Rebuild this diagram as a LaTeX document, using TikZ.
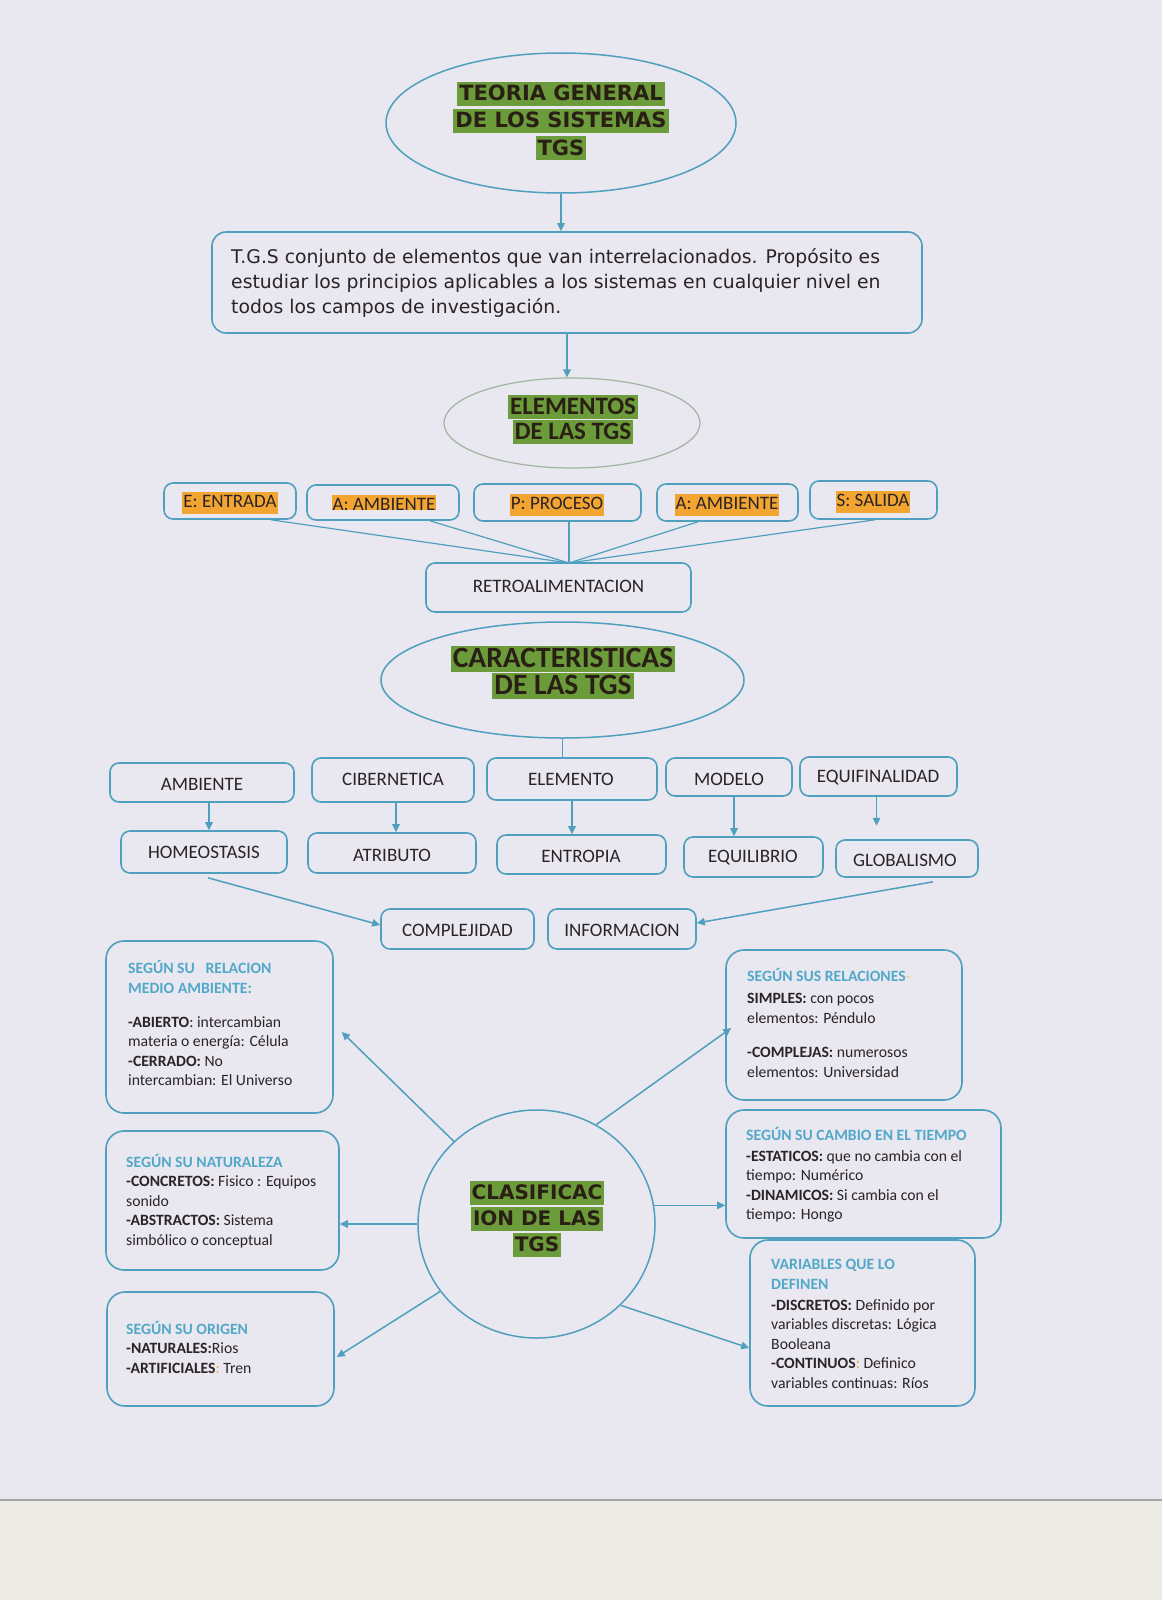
\documentclass[tikz,border=0pt]{standalone}
\usepackage{fontspec}
\setmainfont{Carlito}
\newfontfamily\dvs{DejaVu Sans}
\usetikzlibrary{shapes.geometric,arrows.meta,calc}
\definecolor{bgc}{HTML}{E9E7EF}
\definecolor{crm}{HTML}{EDEBE5}
\definecolor{lnc}{HTML}{4F9FBE}
\definecolor{hlg}{HTML}{6B9B3A}
\definecolor{hlo}{HTML}{F2A531}
\definecolor{txc}{HTML}{2B2326}
\definecolor{ttc}{HTML}{2A1F14}
\definecolor{hdc}{HTML}{52A8C8}
\definecolor{elc}{HTML}{A0B4A0}
\tikzset{
  bx/.style={draw=lnc, line width=1.6pt, rounded corners=9pt, inner sep=0pt},
  lbl/.style={font=\fontsize{19}{19}\selectfont, text=txc, inner sep=0pt},
  hlt/.style={fill=hlg, text=ttc, inner xsep=2pt},
  tgsl/.style={hlt, font=\dvs\bfseries\fontsize{21}{21}\selectfont, text height=15.5pt, text depth=1.5pt, inner ysep=3.5pt},
  elml/.style={hlt, font=\bfseries\fontsize{25}{25}\selectfont, text height=16.5pt, text depth=2pt, inner ysep=2.5pt},
  chl/.style={hlt, font=\bfseries\fontsize{29.5}{29.5}\selectfont, text height=19.5pt, text depth=2pt, inner ysep=2.5pt},
  cll/.style={hlt, font=\dvs\bfseries\fontsize{20}{20}\selectfont, text height=15pt, text depth=1.5pt, inner ysep=4pt},
  orl/.style={fill=hlo, text=txc, font=\fontsize{19}{19}\selectfont, inner xsep=1pt, inner ysep=2.5pt, text height=13pt, text depth=4pt},
  arr/.style={draw=lnc, line width=1.5pt, -{Triangle[length=8pt,width=7.5pt]}},
  ln/.style={draw=lnc, line width=1.2pt},
  ell/.style={ellipse, draw=lnc, line width=1.5pt, inner sep=0pt},
  btxt/.style={anchor=base west, inner sep=0pt, text=txc, font=\fontsize{15.7}{19.5}\selectfont},
}
\newcommand{\hd}[1]{\textcolor{hdc}{\textbf{#1}}}
\begin{document}
\begin{tikzpicture}[x=1pt,y=-1pt]
\useasboundingbox (0,0) rectangle (1162,1600);
\fill[bgc] (0,0) rectangle (1162,1500);
\fill[crm] (0,1500) rectangle (1162,1600);
\draw[draw=black!35, line width=1.2pt] (0,1500) -- (1162,1500);

% ---- title ellipse
\node[ell, minimum width=350pt, minimum height=140pt] (tgs) at (561,123) {};
\node[tgsl] (tgsa) at (561,94) {TEORIA GENERAL};
\node[tgsl] (tgsb) at (561,121) {DE LOS SISTEMAS};
\node[tgsl] (tgsc) at (561,148) {TGS};

% ---- definition box
\node[bx, rounded corners=14pt, minimum width=710pt, minimum height=101pt] (def) at (567,282.5) {};
\node[anchor=base west, inner sep=0pt, text=txc, font=\dvs\fontsize{18.8}{25}\selectfont] (deft) at (231,263)
  {\parbox[t]{690pt}{\raggedright T.G.S conjunto de elementos que van interrelacionados. Propósito es\\
  estudiar los principios aplicables a los sistemas en cualquier nivel en\\
  todos los campos de investigación.}};
\draw[arr] (tgs.south) -- (tgs.south |- def.north);

% ---- elementos
\node[ell, draw=elc, line width=1.2pt, minimum width=256pt, minimum height=90pt] (elem) at (572,423) {};
\node[elml] (elema) at (573,407) {ELEMENTOS};
\node[elml] (elemb) at (573,432) {DE LAS TGS};
\draw[arr] (def.south) -- (def.south |- elem.north);

\node[bx, minimum width=132pt, minimum height=36pt] (e1) at (230,501) {};
\node[bx, minimum width=152pt, minimum height=35pt] (e2) at (383,502.5) {};
\node[bx, minimum width=167pt, minimum height=37pt] (e3) at (557.5,502.5) {};
\node[bx, minimum width=141pt, minimum height=37pt] (e4) at (727.5,502.5) {};
\node[bx, minimum width=127pt, minimum height=38pt] (e5) at (873.5,500) {};
\node[orl] (e1t) at (230,503) {E: ENTRADA};
\begin{scope}
  \clip (300,480) rectangle (470,509.5);
  \node[orl] (e2t) at (384,506) {A: AMBIENTE};
\end{scope}
\node[orl] (e3t) at (557,505) {P: PROCESO};
\node[orl] (e4t) at (727,505) {A: AMBIENTE};
\node[orl] (e5t) at (873,502) {S: SALIDA};

\node[bx, minimum width=265pt, minimum height=49pt] (retro) at (558.5,587.5) {};
\node[lbl] (retrot) at (558.5,586) {RETROALIMENTACION};
\coordinate (conv) at (569,563);
\draw[ln] ([xshift=41pt]e1.south) -- (conv);
\draw[ln] ([xshift=47pt]e2.south) -- (conv);
\draw[ln] ([xshift=11.5pt]e3.south) -- (conv);
\draw[ln] ([xshift=-29.5pt]e4.south) -- (conv);
\draw[ln] ([xshift=1.5pt]e5.south) -- (conv);

% ---- caracteristicas
\node[ell, minimum width=363pt, minimum height=116pt] (ch) at (562.5,680) {};
\node[chl] (cha) at (563,659) {CARACTERISTICAS};
\node[chl] (chb) at (563,686) {DE LAS TGS};

\node[bx, minimum width=184pt, minimum height=39pt] (c1) at (202,782.5) {};
\node[bx, minimum width=162pt, minimum height=44pt] (c2) at (393,780) {};
\node[bx, minimum width=170pt, minimum height=42pt] (c3) at (572,779) {};
\node[bx, minimum width=126pt, minimum height=38pt] (c4) at (729,777) {};
\node[bx, minimum width=157pt, minimum height=39pt] (c5) at (878.5,776.5) {};
\node[lbl] (c1t) at (202,784) {AMBIENTE};
\node[lbl] (c2t) at (393,779) {CIBERNETICA};
\node[lbl] (c3t) at (571,779) {ELEMENTO};
\node[lbl] (c4t) at (729,779) {MODELO};
\node[lbl] (c5t) at (878,778) {EQUIFINALIDAD};
\draw[ln] (ch.south) -- (ch.south |- c3.north);

\node[bx, minimum width=166pt, minimum height=42pt] (d1) at (204,852) {};
\node[bx, minimum width=168pt, minimum height=40pt] (d2) at (392,853) {};
\node[bx, minimum width=169pt, minimum height=39pt] (d3) at (581.5,854.5) {};
\node[bx, minimum width=139pt, minimum height=40pt] (d4) at (753.5,857) {};
\node[bx, minimum width=142pt, minimum height=37pt] (d5) at (907,858.5) {};
\node[lbl] (d1t) at (204,852) {HOMEOSTASIS};
\node[lbl] (d2t) at (392,855) {ATRIBUTO};
\node[lbl] (d3t) at (581,856) {ENTROPIA};
\node[lbl] (d4t) at (753,858) {EQUILIBRIO};
\node[lbl] (d5t) at (905,860) {GLOBALISMO};

\draw[arr] ([xshift=7pt]c1.south) -- ([xshift=7pt]c1.south |- d1.north);
\draw[arr] ([xshift=3pt]c2.south) -- ([xshift=3pt]c2.south |- d2.north);
\draw[arr] (c3.south) -- (c3.south |- d3.north);
\draw[arr] ([xshift=5pt]c4.south) -- ([xshift=5pt]c4.south |- d4.north);
\draw[arr] ([xshift=-2pt]c5.south) -- ++(0,29);

\node[bx, minimum width=153pt, minimum height=40pt] (comp) at (457.5,929) {};
\node[bx, minimum width=148pt, minimum height=40pt] (info) at (622,929) {};
\node[lbl] (compt) at (457.5,930) {COMPLEJIDAD};
\node[lbl] (infot) at (622,930) {INFORMACION};
\draw[arr] ([xshift=4pt,yshift=-4pt]d1.south) -- ([yshift=4pt]comp.west);
\draw[arr] ([xshift=26pt,yshift=-4pt]d5.south) -- ([yshift=6pt]info.east);

% ---- clasificacion
\node[ell, minimum width=237pt, minimum height=228pt] (cl) at (536.5,1224) {};
\node[cll] (cla) at (537,1193) {CLASIFICAC};
\node[cll] (clb) at (537,1219) {ION DE LAS};
\node[cll] (clc) at (537,1245) {TGS};

\node[bx, rounded corners=18pt, minimum width=227pt, minimum height=172pt] (b1) at (219.5,1027) {};
\node[bx, rounded corners=18pt, minimum width=236pt, minimum height=150pt] (b2) at (844,1025) {};
\node[bx, rounded corners=18pt, minimum width=233pt, minimum height=139pt] (b3) at (222.5,1200.5) {};
\node[bx, rounded corners=18pt, minimum width=275pt, minimum height=128pt] (b4) at (863.5,1174) {};
\node[bx, rounded corners=18pt, minimum width=227pt, minimum height=114pt] (b5) at (220.5,1349) {};
\node[bx, rounded corners=18pt, minimum width=225pt, minimum height=166pt] (b6) at (862.5,1323) {};

\node[btxt] (b1t) at (128,973) {\parbox[t]{205pt}{\raggedright
  \hd{SEGÚN SU\ \ \ RELACION}\\[0.5pt]
  \hd{MEDIO AMBIENTE:}\\[14.5pt]
  \textbf{-ABIERTO}: intercambian\\
  materia o energía: Célula\\
  \textbf{-CERRADO:} No\\
  intercambian: El Universo}};
\node[btxt] (b2t) at (747,981) {\parbox[t]{210pt}{\raggedright
  \hd{SEGÚN SUS RELACIONES}\textcolor{hlo!60}{-}\\[3pt]
  \textbf{SIMPLES:} con pocos\\
  elementos: Péndulo\\[15pt]
  \textbf{-COMPLEJAS:} numerosos\\
  elementos: Universidad}};
\node[btxt] (b3t) at (126,1167) {\parbox[t]{210pt}{\raggedright
  \hd{SEGÚN SU NATURALEZA}\\
  \textbf{-CONCRETOS:} Fisico : Equipos\\
  sonido\\
  \textbf{-ABSTRACTOS:} Sistema\\
  simbólico o conceptual}};
\node[btxt] (b4t) at (746,1140) {\parbox[t]{250pt}{\raggedright
  \hd{SEGÚN SU CAMBIO EN EL TIEMPO}\\[1.5pt]
  \textbf{-ESTATICOS:} que no cambia con el\\
  tiempo: Numérico\\
  \textbf{-DINAMICOS:} Si cambia con el\\
  tiempo: Hongo}};
\node[btxt] (b5t) at (126,1334) {\parbox[t]{200pt}{\raggedright
  \hd{SEGÚN SU ORIGEN}\\
  \textbf{-NATURALES:}Rios\\
  \textbf{-ARTIFICIALES}\textcolor{hlo}{:} Tren}};
\node[btxt] (b6t) at (771,1269) {\parbox[t]{200pt}{\raggedright
  \hd{VARIABLES QUE LO}\\[1pt]
  \hd{DEFINEN}\\[1pt]
  \textbf{-DISCRETOS:} Definido por\\
  variables discretas: Lógica\\
  Booleana\\
  \textbf{-CONTINUOS}\textcolor{hlo}{:} Definico\\
  variables continuas: Ríos}};

\draw[arr] (cl.135) -- ([xshift=8pt,yshift=-5pt]b1.east);
\draw[arr] (cl.59) -- ([xshift=6pt,yshift=-3pt]b2.west);
\draw[arr] (cl.west) -- (cl.west -| b3.east);
\draw[arr] (cl.9) -- (cl.9 -| b4.west);
\draw[arr] (cl.215) -- ([xshift=2pt,yshift=-8pt]b5.east);
\draw[arr] (cl.316) -- ([yshift=-25pt]b6.west);
\end{tikzpicture}
\end{document}
